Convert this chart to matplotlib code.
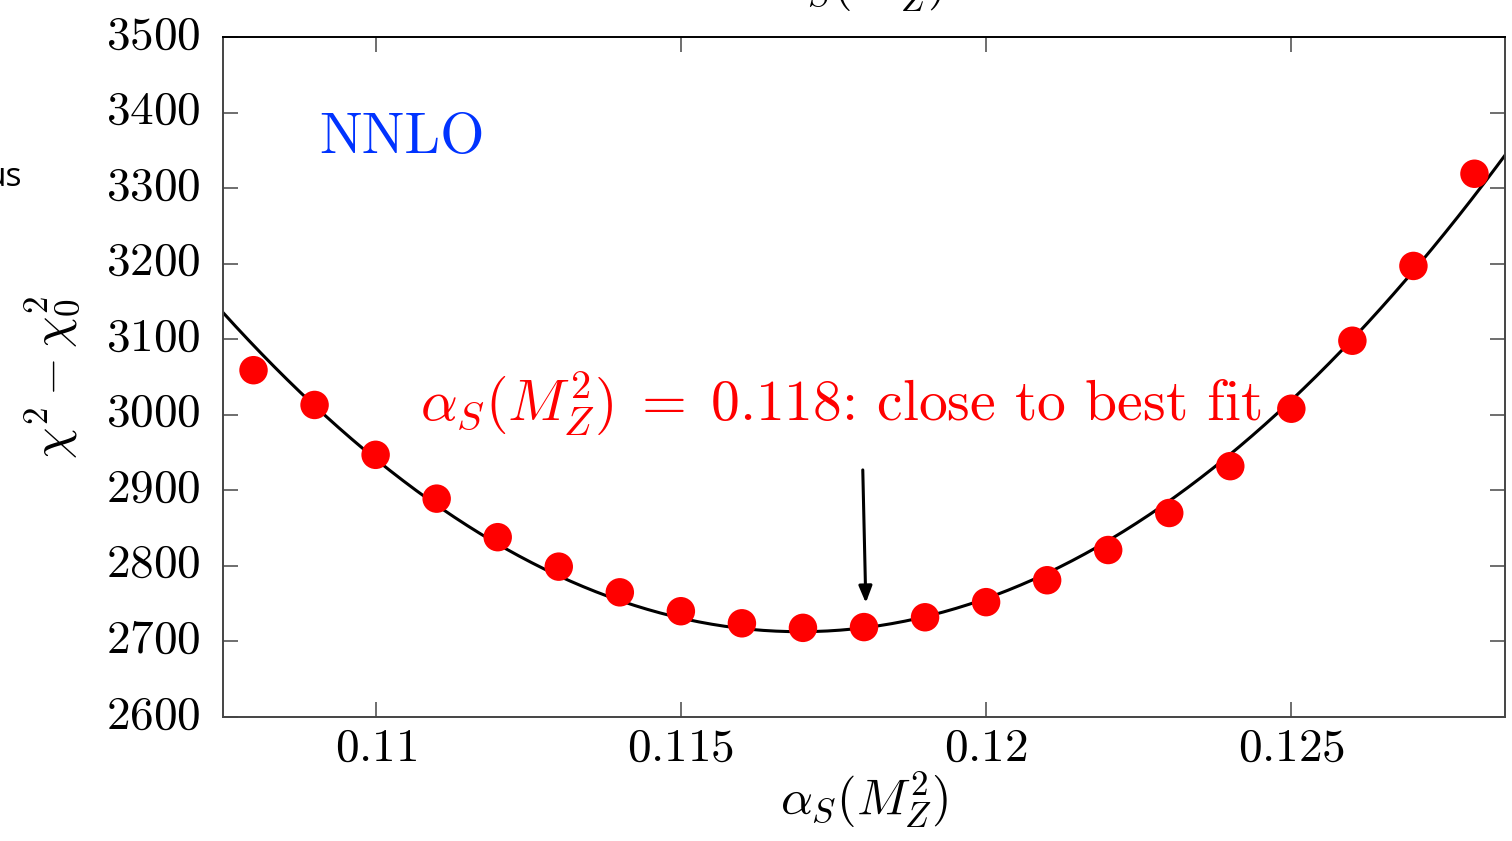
import matplotlib.pyplot as plt
import matplotlib.transforms as mtransforms
import numpy as np

plt.rcParams["mathtext.fontset"] = "cm"
plt.rcParams["font.family"] = ["cmr10", "DejaVu Serif"]
plt.rcParams["axes.formatter.use_mathtext"] = True

alpha_s = [0.108, 0.109, 0.110, 0.111, 0.112, 0.113, 0.114, 0.115, 0.116, 0.117, 0.118,
           0.119, 0.120, 0.121, 0.122, 0.123, 0.124, 0.125, 0.126, 0.127, 0.128]
chi2 = [3059, 3013, 2947, 2889, 2838, 2799, 2765, 2740, 2724, 2718, 2719,
        2732, 2752, 2781, 2821, 2870, 2932, 3008, 3098, 3197, 3319]

x_ticks = [0.11, 0.115, 0.12, 0.125]
x_tick_labels = ["$0.11$", "$0.115$", "$0.12$", "$0.125$"]
y_ticks = list(range(2600, 3501, 100))
y_tick_labels = [f"${v}$" for v in y_ticks]

fig = plt.figure(figsize=(15.12, 8.41), dpi=100)
ax = fig.add_axes([223 / 1512, 1 - 717 / 841, (1505 - 223) / 1512, (717 - 37) / 841])

# quadratic fit through the points
coef = np.polyfit(alpha_s, chi2, 2)
xs = np.linspace(0.1075, 0.1285, 300)
ax.plot(xs, np.polyval(coef, xs), color="black", lw=2.2, zorder=2)
ax.scatter(alpha_s, chi2, s=420, color="#ff0000", edgecolors="none", zorder=3)

ax.set_xlim(0.1075, 0.1285)
ax.set_ylim(2600, 3500)
ax.set_xticks(x_ticks)
ax.set_xticklabels(x_tick_labels)
ax.set_yticks(y_ticks)
ax.set_yticklabels(y_tick_labels)
ax.tick_params(direction="in", length=11, width=1.2, color="#555555",
               top=True, right=True, labelsize=34)
ax.tick_params(axis="x", pad=8)
ax.tick_params(axis="y", pad=16)
shift_up = mtransforms.ScaledTranslation(0, 5 / 100, fig.dpi_scale_trans)
for lab in ax.get_yticklabels():
    lab.set_transform(lab.get_transform() + shift_up)
for side in ["left", "bottom", "right"]:
    ax.spines[side].set_color("#444444")
    ax.spines[side].set_linewidth(1.4)
ax.spines["top"].set_color("black")
ax.spines["top"].set_linewidth(1.4)

ax.set_xlabel(r"$\alpha_S(M_Z^2)$", fontsize=36, labelpad=0)
ax.set_ylabel(r"$\chi^2-\chi^2_0$", fontsize=36, labelpad=18)

ax.text(0.10908, 3366, "NNLO", color="#0033ff", fontsize=41,
        ha="left", va="center")
ax.text(0.11072, 3014, r"$\alpha_S(M_Z^2)\;=\;0.118$: close to best fit",
        color="#ff0000", fontsize=41.5, ha="left", va="center")
ax.annotate("", xy=(0.11803, 2751), xytext=(0.11798, 2927),
            arrowprops=dict(arrowstyle="-|>,head_length=1.0,head_width=0.4",
                            color="black", lw=2.2, shrinkA=0, shrinkB=0))

# cropped labels at the figure edges
fig.text(860 / 1512, 1 - 14 / 841, r"$\alpha_S(M_Z^2)$", fontsize=36,
         ha="center", va="bottom")
fig.text(22 / 1512, 1 - 178 / 841, "us", fontsize=24,
         family=["Open Sans"], ha="right", va="center")

fig.savefig("out.png", dpi=100)
